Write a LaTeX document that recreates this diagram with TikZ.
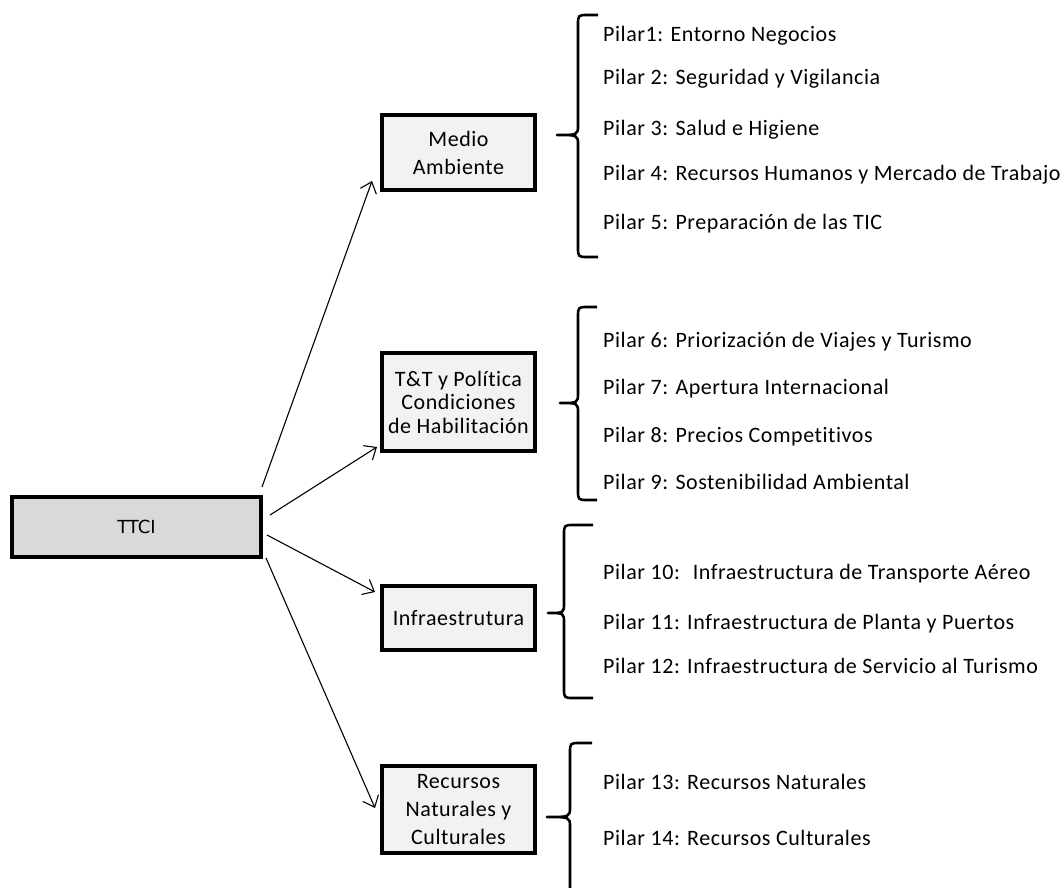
\documentclass[tikz,border=0pt]{standalone}
\usepackage{fontspec}
\setmainfont{Carlito}[LetterSpace=2.5,Ligatures={NoCommon}]
\newfontfamily\ttcifont{DejaVu Sans}
\usetikzlibrary{arrows.meta}
\definecolor{boxgray}{HTML}{F2F2F2}
\definecolor{rootgray}{HTML}{D9D9D9}
\tikzset{
  box/.style={draw=black, line width=3.5pt, fill=boxgray, minimum width=153pt,
    inner sep=0pt, align=center, font=\fontsize{22}{28}\selectfont},
  rootbox/.style={draw=black, line width=3.5pt, fill=rootgray, minimum width=249pt,
    minimum height=60pt, inner sep=0pt, font=\ttcifont\fontsize{18}{20}\selectfont},
  pilar/.style={anchor=base west, inner sep=0pt, font=\fontsize{22}{25}\selectfont},
  link/.style={line width=1.1pt, -{Straight Barb[length=10pt,width=17pt,line width=1.1pt]}},
  bracestyle/.style={line width=2.6pt, line join=round}
}
% brace: tip x, vertical x, end x, top y, mid y, bottom y
\newcommand{\mybrace}[6]{%
  \draw[bracestyle] (#3,#4) -- ({#2+10},#4) .. controls (#2,#4) .. ({#2},{#4+10})
    -- ({#2},{#5-10}) .. controls (#2,#5) .. (#1,#5)
    .. controls (#2,#5) .. ({#2},{#5+10}) -- ({#2},{#6-10})
    .. controls (#2,#6) .. ({#2+10},#6) -- (#3,#6);}
\begin{document}
\begin{tikzpicture}[x=1pt,y=-1pt]
\useasboundingbox (0,0) rectangle (1061,887);

% boxes
\node[rootbox] (ttci) at (136.5,527) {TTCI};
\node[box, minimum height=75pt] (medio) at (458.5,152.5) {Medio\\Ambiente};
\node[box, minimum height=98pt, font=\fontsize{22}{23.5}\selectfont] (tyt) at (458.5,402) {T\&T y Política\\Condiciones\\de Habilitación};
\node[box, minimum height=64pt] (infra) at (458.5,618) {Infraestrutura};
\node[box, minimum height=87pt] (recur) at (458.5,809.5) {Recursos\\Naturales y\\Culturales};

% connector ends
\coordinate (s1) at (262,487);
\coordinate (e1) at (372,181);
\coordinate (s2) at (270,515);
\coordinate (e2) at (377,447);
\coordinate (s3) at (267,535);
\coordinate (e3) at (375,592);
\coordinate (s4) at (266,558);
\coordinate (e4) at (375,808);
\draw[link] (s1) -- (e1);
\draw[link] (s2) -- (e2);
\draw[link] (s3) -- (e3);
\draw[link] (s4) -- (e4);

% braces
\mybrace{557}{578}{598}{15}{135}{257}
\mybrace{560}{578}{597}{307}{403}{500}
\mybrace{548}{564}{593}{525}{613}{698}
\draw[bracestyle] (592,743) -- (580,743) .. controls (570,743) .. (570,753)
  -- (570,807) .. controls (570,817) .. (547,817)
  .. controls (570,817) .. (570,827) -- (570,890);

% pillars
\node[pilar] (p1) at (603,41) {Pilar1: Entorno Negocios};
\node[pilar] (p2) at (603,84) {Pilar 2: Seguridad y Vigilancia};
\node[pilar] (p3) at (603,135) {Pilar 3: Salud e Higiene};
\node[pilar] (p4) at (603,180) {Pilar 4: Recursos Humanos y Mercado de Trabajo};
\node[pilar] (p5) at (603,229) {Pilar 5: Preparación de las TIC};
\node[pilar] (p6) at (603,347) {Pilar 6: Priorización de Viajes y Turismo};
\node[pilar] (p7) at (603,394) {Pilar 7: Apertura Internacional};
\node[pilar] (p8) at (603,442) {Pilar 8: Precios Competitivos};
\node[pilar] (p9) at (603,489) {Pilar 9: Sostenibilidad Ambiental};
\node[pilar] (p10) at (603,579) {Pilar 10: \ Infraestructura de Transporte Aéreo};
\node[pilar] (p11) at (603,629) {Pilar 11: Infraestructura de Planta y Puertos};
\node[pilar] (p12) at (603,673) {Pilar 12: Infraestructura de Servicio al Turismo};
\node[pilar] (p13) at (603,789) {Pilar 13: Recursos Naturales};
\node[pilar] (p14) at (603,845) {Pilar 14: Recursos Culturales};
\end{tikzpicture}
\end{document}
